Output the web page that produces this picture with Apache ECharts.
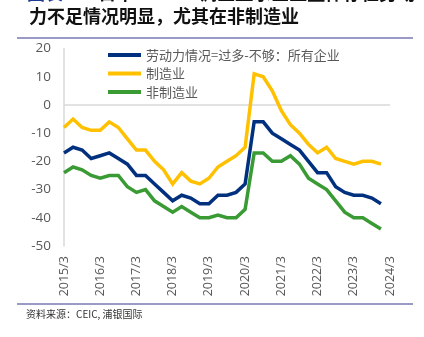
<!DOCTYPE html>
<html>
<head>
<meta charset="utf-8">
<script src="https://cdn.jsdelivr.net/npm/echarts@6/dist/echarts.min.js"></script>
<style>
html,body{margin:0;padding:0;background:#fff;}
#chart{width:424px;height:337px;}
</style>
</head>
<body>
<div id="chart"></div>
<script>
var categories = [
  "2015/3","2015/6","2015/9","2015/12",
  "2016/3","2016/6","2016/9","2016/12",
  "2017/3","2017/6","2017/9","2017/12",
  "2018/3","2018/6","2018/9","2018/12",
  "2019/3","2019/6","2019/9","2019/12",
  "2020/3","2020/6","2020/9","2020/12",
  "2021/3","2021/6","2021/9","2021/12",
  "2022/3","2022/6","2022/9","2022/12",
  "2023/3","2023/6","2023/9","2023/12",
  "2024/3"
];
var seriesNames = ["劳动力情况=过多-不够：所有企业", "制造业", "非制造业"];
var allFirms = [-17,-15,-16,-19,-18,-17,-19,-21,-25,-25,-28,-31,-34,-32,-33,-35,-35,-32,-32,-31,-28,-6,-6,-10,-12,-14,-16,-20,-24,-24,-29,-31,-32,-32,-33,-35,null];
var manufacturing = [-8,-5,-8,-9,-9,-6,-8,-12,-16,-16,-20,-23,-28,-24,-27,-28,-26,-22,-20,-18,-15,11,10,5,-2,-7,-10,-14,-17,-15,-19,-20,-21,-20,-20,-21,null];
var nonManufacturing = [-24,-22,-23,-25,-26,-25,-25,-29,-31,-30,-34,-36,-38,-36,-38,-40,-40,-39,-40,-40,-37,-17,-17,-20,-20,-18,-21,-26,-28,-30,-34,-38,-40,-40,-42,-44,null];
var yTicks = {min: -50, max: 20, interval: 10};
var titleLine1 = "日本Tankan调查显示企业整体存在劳动";
var titleLabel = "图表 38:";
var titleLine2 = "力不足情况明显，尤其在非制造业";
var sourceText = "资料来源：CEIC, 浦银国际";

var colors = ["#00307E", "#FFC000", "#3A9B35"];
var chart = echarts.init(document.getElementById('chart'), null, {renderer: 'canvas'});
var cjk = '"Noto Sans CJK SC", sans-serif';
var num = '"Open Sans", "Liberation Sans", sans-serif';

function mk(name, data, color) {
  return {
    name: name, type: 'line', data: data, symbol: 'none',
    lineStyle: {color: color, width: 3.5, join: 'miter'},
    itemStyle: {color: color},
    connectNulls: false, animation: false
  };
}

chart.setOption({
  animation: false,
  backgroundColor: '#ffffff',
  color: colors,
  grid: {left: 64, right: 34, top: 48.5, bottom: 91, containLabel: false},
  legend: {
    orient: 'vertical', left: 103, top: 43,
    icon: 'rect', itemWidth: 33, itemHeight: 4, itemGap: 4.5,
    textStyle: {fontFamily: cjk, fontSize: 13, color: '#595959', lineHeight: 14},
    data: seriesNames
  },
  xAxis: {
    type: 'category', data: categories, boundaryGap: false,
    axisLine: {show: false}, axisTick: {show: false},
    splitLine: {show: false},
    axisLabel: {
      interval: 3, rotate: 90, margin: 10,
      fontFamily: num, fontSize: 12.5, color: '#595959'
    }
  },
  yAxis: {
    type: 'value', min: yTicks.min, max: yTicks.max, interval: yTicks.interval,
    axisLine: {show: true, lineStyle: {color: '#D9D9D9', width: 1.5}},
    axisTick: {show: false},
    axisLabel: {margin: 13, fontFamily: num, fontSize: 13.5, color: '#595959'},
    splitLine: {show: true, lineStyle: {color: ['transparent','transparent','transparent','transparent','transparent','#D9D9D9','transparent','transparent'], width: 1.5}}
  },
  series: [
    mk(seriesNames[0], allFirms, colors[0]),
    mk(seriesNames[1], manufacturing, colors[1]),
    mk(seriesNames[2], nonManufacturing, colors[2])
  ],
  graphic: [
    {type: 'text', left: 27, top: -16, silent: true, style: {
      text: '{b|' + titleLabel + '} ' + titleLine1,
      font: 'bold 18px ' + cjk, fill: '#111',
      rich: {b: {fontFamily: cjk, fontWeight: 'bold', fontSize: 18, fill: '#1F3A93', color: '#1F3A93'}}
    }},
    {type: 'text', left: 29, top: 7, silent: true, style: {
      text: titleLine2, font: 'bold 18px ' + cjk, fill: '#111'
    }},
    {type: 'rect', silent: true, shape: {x: 17, y: 37, width: 396, height: 2}, style: {fill: '#9A9AC6'}},
    {type: 'rect', silent: true, shape: {x: 17, y: 303, width: 396, height: 2}, style: {fill: '#9A9AC6'}},
    {type: 'text', left: 26, top: 309, silent: true, style: {
      text: sourceText, font: '10px ' + cjk, fill: '#333'
    }}
  ]
});
</script>
</body>
</html>
